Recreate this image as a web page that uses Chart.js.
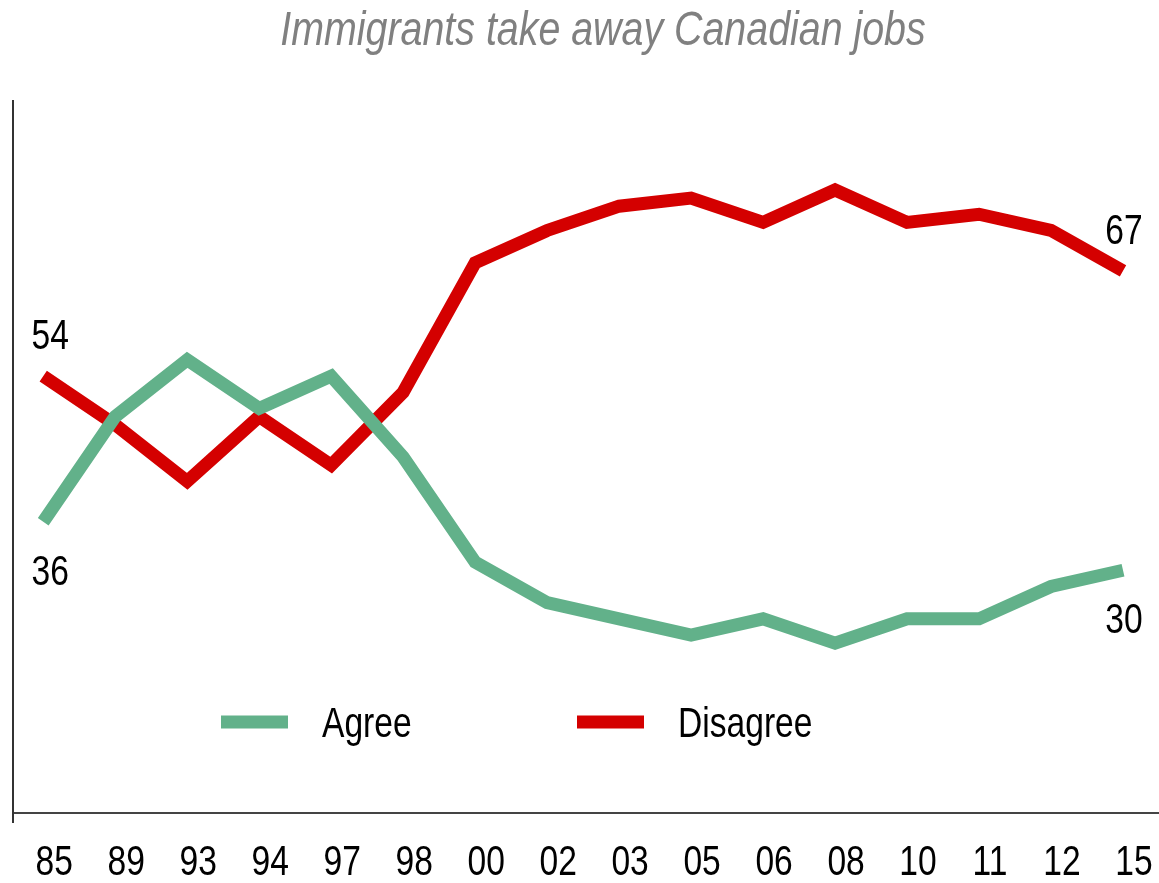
<!DOCTYPE html>
<html>
<head>
<meta charset="utf-8">
<title>Immigrants take away Canadian jobs</title>
<script src="https://cdn.jsdelivr.net/npm/chart.js@4.4.1/dist/chart.umd.min.js"></script>
<style>
  html, body { margin: 0; padding: 0; background: #fff; }
</style>
</head>
<body>
<canvas id="chart" width="1159" height="883"></canvas>
<script>
// survey years (two-digit) and share of respondents, %
var years = ['85', '89', '93', '94', '97', '98', '00', '02', '03', '05', '06', '08', '10', '11', '12', '15'];
var agree = [36, 49, 56, 50, 54, 44, 31, 26, 24, 22, 24, 21, 24, 24, 28, 30];
var disagree = [54, 48, 41, 49, 43, 52, 68, 72, 75, 76, 73, 77, 73, 74, 72, 67];
var seriesNames = ['Agree', 'Disagree'];
var seriesColors = ['#62b18a', '#d40000'];
var titleText = 'Immigrants take away Canadian jobs';

var FONT = "'Liberation Sans', Arial, sans-serif";
var NARROW = 0.8; // no narrow face installed, so squeeze the regular one

function toPoints(arr) {
  return arr.map(function (v, i) { return { x: i, y: v }; });
}

// condensed text helper
function narrowText(ctx, text, x, y, align, squeeze) {
  ctx.save();
  ctx.translate(x, y);
  ctx.scale(squeeze || NARROW, 1);
  ctx.textAlign = align || 'center';
  ctx.fillText(text, 0, 0);
  ctx.restore();
}

// title, year labels, end values, legend
var textLayer = {
  id: 'textLayer',
  afterDraw: function (chart) {
    var ctx = chart.ctx;
    var area = chart.chartArea;
    var xs = chart.scales.x;
    ctx.save();
    ctx.textBaseline = 'alphabetic';

    ctx.fillStyle = '#808080';
    ctx.font = 'italic 48px ' + FONT;
    narrowText(ctx, titleText, 603, 45, 'center', 0.82);

    ctx.fillStyle = '#000';
    ctx.font = '42px ' + FONT;
    years.forEach(function (y, i) {
      narrowText(ctx, y, xs.getPixelForValue(i) + 11, area.bottom + 62);
    });

    chart.data.datasets.forEach(function (ds, i) {
      var pts = chart.getDatasetMeta(i).data;
      var n = pts.length - 1;
      var dy = i === 0 ? 63 : -27;   // agree below, disagree above
      narrowText(ctx, String(ds.data[0].y), pts[0].x + 7, pts[0].y + dy);
      narrowText(ctx, String(ds.data[n].y), pts[n].x + 1, pts[n].y + dy);
    });

    var ly = 722;
    var slots = [221, 577];
    chart.data.datasets.forEach(function (ds, i) {
      var x = slots[i];
      ctx.fillStyle = ds.borderColor;
      ctx.fillRect(x, ly - 6.5, 67, 13);
      ctx.fillStyle = '#000';
      narrowText(ctx, ds.label, x + 101, ly + 15, 'left');
    });

    // stub of the y axis below the baseline
    ctx.strokeStyle = '#333';
    ctx.lineWidth = 2;
    ctx.beginPath();
    ctx.moveTo(area.left, area.bottom);
    ctx.lineTo(area.left, area.bottom + 10);
    ctx.stroke();
    ctx.restore();
  }
};

new Chart(document.getElementById('chart'), {
  type: 'line',
  data: {
    datasets: [
      { label: seriesNames[0], data: toPoints(agree), borderColor: seriesColors[0], backgroundColor: seriesColors[0] },
      { label: seriesNames[1], data: toPoints(disagree), borderColor: seriesColors[1], backgroundColor: seriesColors[1] }
    ]
  },
  options: {
    responsive: false,
    animation: false,
    layout: { padding: { top: 101, left: 0, right: 0, bottom: 0 } },
    elements: {
      line: { borderWidth: 13, tension: 0, borderJoinStyle: 'miter' },
      point: { radius: 0, hoverRadius: 0 }
    },
    scales: {
      x: {
        type: 'linear',
        min: -0.42,
        max: 15.5,
        afterFit: function (axis) { axis.height = 70; },
        grid: { display: false, drawTicks: false },
        border: { display: true, color: '#444', width: 2 },
        ticks: { display: false }
      },
      y: {
        min: 0,
        max: 88,
        afterFit: function (axis) { axis.width = 13; },
        grid: { display: false, drawTicks: false },
        border: { display: true, color: '#333', width: 2 },
        ticks: { display: false }
      }
    },
    plugins: {
      legend: { display: false },
      tooltip: { enabled: false },
      title: { display: false }
    }
  },
  plugins: [textLayer]
});
</script>
</body>
</html>
